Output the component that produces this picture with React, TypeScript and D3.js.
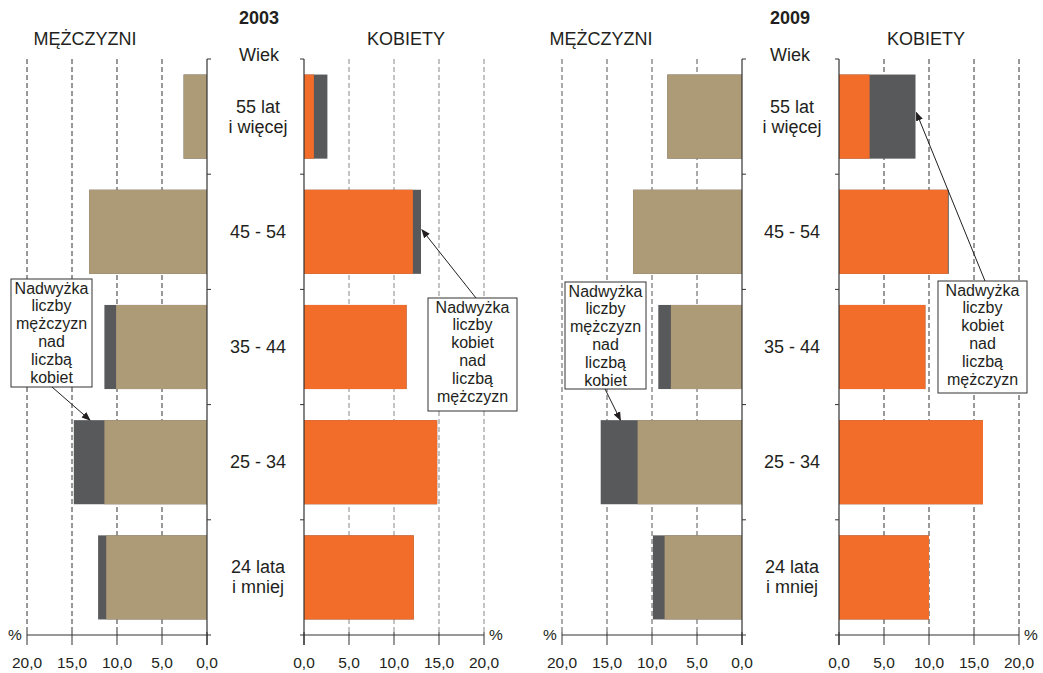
import React from "react";
import * as d3 from "d3";

const categories: string[][] = [
  ["55 lat", "i więcej"],
  ["45 - 54"],
  ["35 - 44"],
  ["25 - 34"],
  ["24 lata", "i mniej"],
];
const categoryKeys = ["55+", "45-54", "35-44", "25-34", "<=24"];

const ticks = [20, 15, 10, 5, 0];
const tickLabels = ["20,0", "15,0", "10,0", "5,0", "0,0"];

// 2003
const men2003Base = [2.6, 13.1, 10.1, 11.4, 11.2];
const men2003Total = [2.6, 13.1, 11.4, 14.8, 12.1];
const women2003Base = [1.1, 12.1, 11.4, 14.8, 12.2];
const women2003Total = [2.6, 13.0, 11.4, 14.8, 12.2];
// 2009
const men2009Base = [8.3, 12.1, 7.9, 11.6, 8.6];
const men2009Total = [8.3, 12.1, 9.3, 15.7, 9.9];
const women2009Base = [3.4, 12.1, 9.6, 16.0, 10.0];
const women2009Total = [8.5, 12.2, 9.6, 16.0, 10.0];

const menBoxLines = ["Nadwyżka", "liczby", "mężczyzn", "nad", "liczbą", "kobiet"];
const womenBoxLines = ["Nadwyżka", "liczby", "kobiet", "nad", "liczbą", "mężczyzn"];

const BEIGE = "#AD9A77";
const ORANGE = "#F26C2A";
const DARK = "#58595B";
const FONT = "'Liberation Sans', Arial, Helvetica, sans-serif";

const TOP = 59;
const AXIS_Y = 635;

const yScale = d3
  .scaleBand<string>()
  .domain(categoryKeys)
  .range([TOP, AXIS_Y])
  .paddingInner(0.27)
  .paddingOuter(0.135);

type Box = { x: number; y: number; w: number; h: number; lines: string[]; from: [number, number]; toVal: number; toCat: string; toDy: number; side: "m" | "w" };

type PanelProps = {
  year: string;
  menZero: number;
  womenZero: number;
  menBase: number[];
  menTotal: number[];
  womenBase: number[];
  womenTotal: number[];
  menGrid: string;
  womenGrid: string;
  menBox: Box;
  womenBox: Box;
  centerX: number;
  menTitleX: number;
  womenTitleX: number;
  yearX: number;
};

function Panel(p: PanelProps) {
  const xm = d3.scaleLinear().domain([0, 20]).range([p.menZero, p.menZero - 180]);
  const xw = d3.scaleLinear().domain([0, 20]).range([p.womenZero, p.womenZero + 180]);
  const bw = yScale.bandwidth();
  const step = yScale.step();
  const boundaries = d3.range(categoryKeys.length + 1).map((i) => TOP + i * step);

  const renderBox = (b: Box, key: string) => {
    const sx = b.side === "m" ? xm : xw;
    const tx = sx(b.toVal);
    const ty = (yScale(b.toCat) as number) + b.toDy;
    return (
      <g key={key}>
        <rect x={b.x} y={b.y} width={b.w} height={b.h} fill="#fff" stroke="#333" strokeWidth={1} />
        {b.lines.map((l, i) => (
          <text key={i} x={b.x + b.w / 2} y={b.y + 14.5 + i * 17.8} textAnchor="middle" fontSize={16} fill="#231f20" fontFamily={FONT}>
            {l}
          </text>
        ))}
        <line x1={b.from[0]} y1={b.from[1]} x2={tx} y2={ty} stroke="#231f20" strokeWidth={1} markerEnd="url(#arrow)" />
      </g>
    );
  };

  return (
    <g>
      {/* grid lines */}
      {ticks.filter((t) => t > 0).map((t) => (
        <line key={"gm" + t} x1={xm(t)} x2={xm(t)} y1={TOP} y2={AXIS_Y} stroke={p.menGrid} strokeDasharray="5,3" strokeWidth={1} />
      ))}
      {ticks.filter((t) => t > 0).map((t) => (
        <line key={"gw" + t} x1={xw(t)} x2={xw(t)} y1={TOP} y2={AXIS_Y} stroke={p.womenGrid} strokeDasharray="5,3" strokeWidth={1} />
      ))}
      {/* men bars */}
      {categoryKeys.map((c, i) => (
        <g key={"m" + c}>
          <rect x={xm(p.menTotal[i])} y={yScale(c)} width={xm(0) - xm(p.menTotal[i])} height={bw} fill={DARK} />
          <rect x={xm(p.menBase[i])} y={yScale(c)} width={xm(0) - xm(p.menBase[i])} height={bw} fill={BEIGE} />
        </g>
      ))}
      {/* women bars */}
      {categoryKeys.map((c, i) => (
        <g key={"w" + c}>
          <rect x={xw(0)} y={yScale(c)} width={xw(p.womenTotal[i]) - xw(0)} height={bw} fill={DARK} />
          <rect x={xw(0)} y={yScale(c)} width={xw(p.womenBase[i]) - xw(0)} height={bw} fill={ORANGE} />
        </g>
      ))}
      {/* category axes */}
      <line x1={p.menZero} x2={p.menZero} y1={TOP} y2={AXIS_Y + 10} stroke="#333" strokeWidth={1.2} />
      <line x1={p.womenZero} x2={p.womenZero} y1={TOP} y2={AXIS_Y + 10} stroke="#333" strokeWidth={1.2} />
      {boundaries.slice(0, -1).map((b, i) => (
        <g key={"bt" + i}>
          <line x1={p.menZero} x2={p.menZero + 4} y1={b} y2={b} stroke="#333" />
          <line x1={p.womenZero - 4} x2={p.womenZero} y1={b} y2={b} stroke="#333" />
        </g>
      ))}
      {/* value axes */}
      <line x1={xm(20)} x2={xm(0) + 4} y1={AXIS_Y} y2={AXIS_Y} stroke="#333" strokeWidth={1} />
      <line x1={xw(0) - 4} x2={xw(20)} y1={AXIS_Y} y2={AXIS_Y} stroke="#333" strokeWidth={1} />
      {ticks.map((t, i) => (
        <g key={"t" + t}>
          <line x1={xm(t)} x2={xm(t)} y1={AXIS_Y - 3} y2={AXIS_Y + 10} stroke="#333" />
          <text x={xm(t)} y={668} textAnchor="middle" fontSize={15.5} fill="#231f20" fontFamily={FONT}>{tickLabels[i]}</text>
          <line x1={xw(t)} x2={xw(t)} y1={AXIS_Y - 3} y2={AXIS_Y + 10} stroke="#333" />
          <text x={xw(t)} y={668} textAnchor="middle" fontSize={15.5} fill="#231f20" fontFamily={FONT}>{tickLabels[i]}</text>
        </g>
      ))}
      <text x={xm(20) - 12} y={640} textAnchor="middle" fontSize={15.5} fill="#231f20" fontFamily={FONT}>%</text>
      <text x={xw(20) + 12} y={640} textAnchor="middle" fontSize={15.5} fill="#231f20" fontFamily={FONT}>%</text>
      {/* category labels */}
      {categoryKeys.map((c, i) => {
        const cy = (yScale(c) as number) + bw / 2;
        const lines = categories[i];
        return (
          <g key={"cl" + c}>
            {lines.map((l, j) => (
              <text key={j} x={p.centerX} y={cy + 6 + (j - (lines.length - 1) / 2) * 20} textAnchor="middle" fontSize={18} fill="#231f20" fontFamily={FONT}>
                {l}
              </text>
            ))}
          </g>
        );
      })}
      {/* titles */}
      <text x={p.yearX} y={24} textAnchor="middle" fontSize={18} fontWeight="bold" fill="#231f20" fontFamily={FONT}>{p.year}</text>
      <text x={p.menTitleX} y={45} textAnchor="middle" fontSize={18} fill="#231f20" fontFamily={FONT}>MĘŻCZYZNI</text>
      <text x={p.womenTitleX} y={45} textAnchor="middle" fontSize={18} fill="#231f20" fontFamily={FONT}>KOBIETY</text>
      <text x={p.yearX} y={61} textAnchor="middle" fontSize={18} fill="#231f20" fontFamily={FONT}>Wiek</text>
      {renderBox(p.menBox, "mb")}
      {renderBox(p.womenBox, "wb")}
    </g>
  );
}

export default function App() {
  return (
    <svg width={1043} height={673} style={{ position: "absolute", left: 0, top: 0, background: "#fff" }}>
      <defs>
        <marker id="arrow" viewBox="0 0 10 10" refX="9" refY="5" markerWidth="9" markerHeight="9" orient="auto" markerUnits="userSpaceOnUse">
          <path d="M0,1 L10,5 L0,9 z" fill="#231f20" />
        </marker>
      </defs>
      <Panel
        year="2003"
        menZero={207}
        womenZero={304}
        menBase={men2003Base}
        menTotal={men2003Total}
        womenBase={women2003Base}
        womenTotal={women2003Total}
        menGrid="#333"
        womenGrid="#888"
        centerX={258}
        menTitleX={85}
        womenTitleX={406}
        yearX={259}
        menBox={{ x: 11, y: 279, w: 81, h: 108, lines: menBoxLines, from: [52, 387], toVal: 13.0, toCat: "25-34", toDy: 0, side: "m" }}
        womenBox={{ x: 428, y: 298, w: 89, h: 113, lines: womenBoxLines, from: [476, 298], toVal: 13.1, toCat: "45-54", toDy: 40, side: "w" }}
      />
      <Panel
        year="2009"
        menZero={742}
        womenZero={839}
        menBase={men2009Base}
        menTotal={men2009Total}
        womenBase={women2009Base}
        womenTotal={women2009Total}
        menGrid="#555"
        womenGrid="#333"
        centerX={792}
        menTitleX={601}
        womenTitleX={926}
        yearX={790}
        menBox={{ x: 565, y: 282, w: 81, h: 107, lines: menBoxLines, from: [605, 389], toVal: 13.5, toCat: "25-34", toDy: 0, side: "m" }}
        womenBox={{ x: 938, y: 281, w: 89, h: 112, lines: womenBoxLines, from: [985, 281], toVal: 8.6, toCat: "55+", toDy: 38, side: "w" }}
      />
    </svg>
  );
}
